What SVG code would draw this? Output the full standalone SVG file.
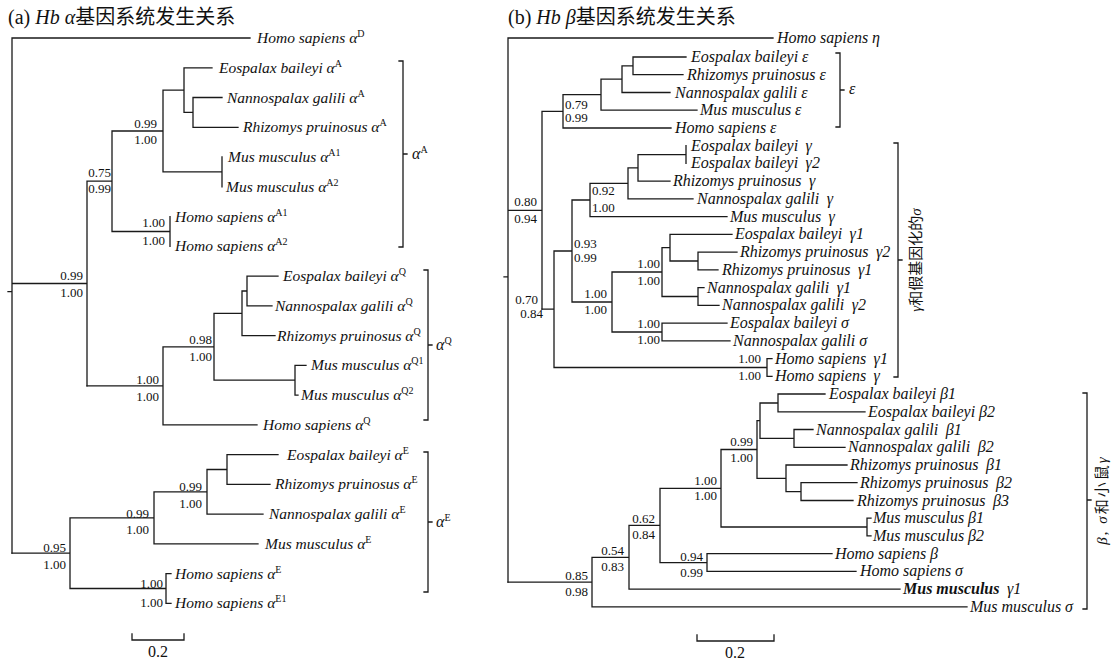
<svg xmlns="http://www.w3.org/2000/svg" width="1111" height="662" viewBox="0 0 1111 662">
<style>
.br{stroke:#1a1a1a;stroke-width:1.3;fill:none;stroke-linecap:square}
.lf{font-family:"Liberation Serif",serif;font-style:italic;font-size:16px;fill:#111}
.la{font-size:15.5px}
.sv{font-family:"Liberation Serif",serif;font-size:13px;fill:#111}
.svr{font-family:"Liberation Serif",serif;font-size:13px;fill:#111;text-anchor:end}
.sup{font-size:10px;font-style:normal}
.ttl{font-family:"Liberation Serif","Noto Sans CJK SC",serif;font-size:20px;fill:#111}
.cj{font-family:"Liberation Serif","Noto Sans CJK SC",serif;font-size:15px;fill:#111}
.sc{font-family:"Liberation Serif",serif;font-size:16px;fill:#111;text-anchor:middle}
.bd{font-weight:bold}
</style>
<rect width="1111" height="662" fill="#fff"/>
<g id="titles">
<text class="ttl" x="8" y="24">(a) <tspan font-style="italic">Hb α</tspan>基因系统发生关系</text>
<text class="ttl" x="508" y="24">(b) <tspan font-style="italic">Hb β</tspan>基因系统发生关系</text>
</g>
<g id="connectors" class="br">
<path d="M12,38V553.2M8,291.6H12M12,38H250M12,283.5H87M87,181.2V385.8M87,181.2H112M112,131V231.5M112,131H163M163,90.1V171.9M163,90.1H184M184,67.8V112.4M184,67.8H212M184,112.4H193M193,97.5V127.3M193,97.5H222M193,127.3H238M163,171.9H222M222,157V186.8M112,231.5H170M170,216.6V246.3"/>
<path d="M87,385.8H163M163,346.8V424.9M163,346.8H214M214,313.3V380.2M214,313.3H242M242,291V335.6M242,291H247M247,276.1V305.8M247,276.1H278M247,305.8H272M242,335.6H275M214,380.2H295M295,365.4V395.1M295,365.4H306M295,395.1H298M163,424.9H257"/>
<path d="M12,553.2H70M70,517.9V588.5M70,517.9H154M154,491.8V543.9M154,491.8H207M207,469.5V514.2M207,469.5H227M227,454.6V484.4M227,454.6H278M227,484.4H270M207,514.2H263M154,543.9H258M70,588.5H166M166,573.7V603.4M166,573.7H171M166,603.4H171"/>
<path d="M508,38V582.1M504,276.8H508M508,38H773M508,210.3H542M542,111.4V309.2M542,111.4H563M563,94.7V128M563,94.7H601M601,79.2V110.2M601,79.2H622M622,65.9V92.5M622,65.9H633M633,57V74.7M633,57H686M633,74.7H683M622,92.5H670M601,110.2H697M563,128H671"/>
<path d="M542,309.2H554M554,251V367.5M554,251H572M572,200V302M572,200H590M590,183.4V216.7M590,183.4H628M628,167.9V198.9M628,167.9H638M638,154.6V181.2M638,154.6H686M686,145.7V163.4M638,181.2H670M628,198.9H693M590,216.7H727M572,302H612M612,272V332M612,272H662M662,247.7V296.5M662,247.7H670M670,234.4V261M670,234.4H732M670,261H698M698,252.1V269.9M698,252.1H737M698,269.9H718M662,296.5H698M698,287.6V305.4M698,287.6H704M698,305.4H719M612,332H662M662,323.1V340.8M662,323.1H727M662,340.8H730M554,367.5H767M767,358.6V376.3M767,358.6H772M767,376.3H772"/>
<path d="M508,582.1H592M592,557.3V606.9M592,606.9H967M592,557.3H629M629,525.4V589.2M629,589.2H900M629,525.4H660M660,488.3V562.6M660,562.6H707M707,553.7V571.4M707,553.7H832M707,571.4H856M660,488.3H721M721,449.5V527M721,527H867M867,518.2V535.9M867,518.2H871M867,535.9H871M721,449.5H757M757,420.7V478.3M757,420.7H760M760,403V438.4M760,403H778M778,394V411.8M778,394H825M778,411.8H865M760,438.4H794M794,429.5V447.3M794,429.5H813M794,447.3H845M757,478.3H786M786,465V491.6M786,465H847M786,491.6H801M801,482.7V500.5M801,482.7H857M801,500.5H853"/>
<path d="M399,61H403V247H399M403,154H407"/>
<path d="M424,270H428V420H424M428,345H432"/>
<path d="M424,452H428V592H424M428,522H432"/>
<path d="M836,53H840V127H836M840,90H844"/>
<path d="M894,143H898V377H894M898,260H902"/>
<path d="M1083,393H1087V609H1083M1087,500H1091"/>
<path d="M132,634V640H184V634"/>
<path d="M697,635V641H774V635"/>
</g>
<g id="a-leaves" class="lf la">
<g id="a-HsD"><text x="257" y="43">Homo sapiens α<tspan class="sup" dy="-6">D</tspan></text></g>
<g id="a-EbA"><text x="219" y="72.8">Eospalax baileyi α<tspan class="sup" dy="-6">A</tspan></text></g>
<g id="a-NgA"><text x="227" y="102.5">Nannospalax galili α<tspan class="sup" dy="-6">A</tspan></text></g>
<g id="a-RpA"><text x="243" y="132.3">Rhizomys pruinosus α<tspan class="sup" dy="-6">A</tspan></text></g>
<g id="a-MmA1"><text x="228" y="162">Mus musculus α<tspan class="sup" dy="-6">A1</tspan></text></g>
<g id="a-MmA2"><text x="226" y="191.8">Mus musculus α<tspan class="sup" dy="-6">A2</tspan></text></g>
<g id="a-HsA1"><text x="175" y="221.6">Homo sapiens α<tspan class="sup" dy="-6">A1</tspan></text></g>
<g id="a-HsA2"><text x="175" y="251.3">Homo sapiens α<tspan class="sup" dy="-6">A2</tspan></text></g>
<g id="a-EbQ"><text x="283" y="281.1">Eospalax baileyi α<tspan class="sup" dy="-6">Q</tspan></text></g>
<g id="a-NgQ"><text x="275" y="310.8">Nannospalax galili α<tspan class="sup" dy="-6">Q</tspan></text></g>
<g id="a-RpQ"><text x="277" y="340.6">Rhizomys pruinosus α<tspan class="sup" dy="-6">Q</tspan></text></g>
<g id="a-MmQ1"><text x="311" y="370.4">Mus musculus α<tspan class="sup" dy="-6">Q1</tspan></text></g>
<g id="a-MmQ2"><text x="301" y="400.1">Mus musculus α<tspan class="sup" dy="-6">Q2</tspan></text></g>
<g id="a-HsQ"><text x="263" y="429.9">Homo sapiens α<tspan class="sup" dy="-6">Q</tspan></text></g>
<g id="a-EbE"><text x="287" y="459.6">Eospalax baileyi α<tspan class="sup" dy="-6">E</tspan></text></g>
<g id="a-RpE"><text x="275" y="489.4">Rhizomys pruinosus α<tspan class="sup" dy="-6">E</tspan></text></g>
<g id="a-NgE"><text x="269" y="519.2">Nannospalax galili α<tspan class="sup" dy="-6">E</tspan></text></g>
<g id="a-MmE"><text x="265" y="548.9">Mus musculus α<tspan class="sup" dy="-6">E</tspan></text></g>
<g id="a-HsE"><text x="175" y="578.7">Homo sapiens α<tspan class="sup" dy="-6">E</tspan></text></g>
<g id="a-HsE1"><text x="175" y="608.4">Homo sapiens α<tspan class="sup" dy="-6">E1</tspan></text></g>
</g>
<g id="a-support">
<g id="a-n1"><text class="svr" x="157" y="128">0.99</text><text class="svr" x="157" y="144">1.00</text></g>
<g id="a-n2"><text class="svr" x="111" y="176.5">0.75</text><text class="svr" x="111" y="193">0.99</text></g>
<g id="a-n3"><text class="svr" x="165" y="226.5">1.00</text><text class="svr" x="165" y="244.5">1.00</text></g>
<g id="a-n4"><text class="svr" x="83" y="279.5">0.99</text><text class="svr" x="83" y="296.5">1.00</text></g>
<g id="a-n5"><text class="svr" x="212" y="343.5">0.98</text><text class="svr" x="212" y="360.5">1.00</text></g>
<g id="a-n6"><text class="svr" x="159" y="383.5">1.00</text><text class="svr" x="159" y="400.5">1.00</text></g>
<g id="a-n7"><text class="svr" x="202" y="490.5">0.99</text><text class="svr" x="202" y="507.5">1.00</text></g>
<g id="a-n8"><text class="svr" x="149" y="517.5">0.99</text><text class="svr" x="149" y="533.5">1.00</text></g>
<g id="a-n9"><text class="svr" x="66" y="551.5">0.95</text><text class="svr" x="66" y="568.5">1.00</text></g>
<g id="a-n10"><text class="svr" x="163" y="587.5">1.00</text><text class="svr" x="163" y="606.5">1.00</text></g>
</g>
<g id="a-groups" class="lf">
<g id="a-grpA"><text x="412" y="159">α<tspan class="sup" dy="-6">A</tspan></text></g>
<g id="a-grpQ"><text x="436" y="350">α<tspan class="sup" dy="-6">Q</tspan></text></g>
<g id="a-grpE"><text x="436" y="527">α<tspan class="sup" dy="-6">E</tspan></text></g>
</g>
<g id="b-leaves" class="lf">
<g id="b-Hseta"><text x="777" y="43">Homo sapiens η</text></g>
<g id="b-Ebe"><text x="691" y="62">Eospalax baileyi ε</text></g>
<g id="b-Rpe"><text x="687" y="79.7">Rhizomys pruinosus ε</text></g>
<g id="b-Nge"><text x="675" y="97.5">Nannospalax galili ε</text></g>
<g id="b-Mme"><text x="700" y="115.2">Mus musculus ε</text></g>
<g id="b-Hse"><text x="675" y="133">Homo sapiens ε</text></g>
<g id="b-Ebg"><text x="691" y="150.7">Eospalax baileyi<tspan dx="7.5">γ</tspan></text></g>
<g id="b-Ebg2"><text x="691" y="168.4">Eospalax baileyi<tspan dx="7.5">γ2</tspan></text></g>
<g id="b-Rpg"><text x="673" y="186.2">Rhizomys pruinosus<tspan dx="7.5">γ</tspan></text></g>
<g id="b-Ngg"><text x="697" y="203.9">Nannospalax galili<tspan dx="7.5">γ</tspan></text></g>
<g id="b-Mmg"><text x="730" y="221.7">Mus musculus<tspan dx="7.5">γ</tspan></text></g>
<g id="b-Ebg1"><text x="735" y="239.4">Eospalax baileyi<tspan dx="7.5">γ1</tspan></text></g>
<g id="b-Rpg2"><text x="740" y="257.1">Rhizomys pruinosus<tspan dx="7.5">γ2</tspan></text></g>
<g id="b-Rpg1"><text x="722" y="274.9">Rhizomys pruinosus<tspan dx="7.5">γ1</tspan></text></g>
<g id="b-Ngg1"><text x="707" y="292.6">Nannospalax galili<tspan dx="7.5">γ1</tspan></text></g>
<g id="b-Ngg2"><text x="722" y="310.4">Nannospalax galili<tspan dx="7.5">γ2</tspan></text></g>
<g id="b-Ebs"><text x="730" y="328.1">Eospalax baileyi σ</text></g>
<g id="b-Ngs"><text x="733" y="345.8">Nannospalax galili σ</text></g>
<g id="b-Hsg1"><text x="775" y="363.6">Homo sapiens<tspan dx="7.5">γ1</tspan></text></g>
<g id="b-Hsg"><text x="775" y="381.3">Homo sapiens<tspan dx="7.5">γ</tspan></text></g>
<g id="b-Ebb1"><text x="829" y="399">Eospalax baileyi β1</text></g>
<g id="b-Ebb2"><text x="868" y="416.8">Eospalax baileyi β2</text></g>
<g id="b-Ngb1"><text x="816" y="434.5">Nannospalax galili<tspan dx="7.5">β1</tspan></text></g>
<g id="b-Ngb2"><text x="848" y="452.3">Nannospalax galili<tspan dx="7.5">β2</tspan></text></g>
<g id="b-Rpb1"><text x="850" y="470">Rhizomys pruinosus<tspan dx="7.5">β1</tspan></text></g>
<g id="b-Rpb2"><text x="860" y="487.7">Rhizomys pruinosus<tspan dx="7.5">β2</tspan></text></g>
<g id="b-Rpb3"><text x="857" y="505.5">Rhizomys pruinosus<tspan dx="7.5">β3</tspan></text></g>
<g id="b-Mmb1"><text x="873" y="523.2">Mus musculus β1</text></g>
<g id="b-Mmb2"><text x="873" y="540.9">Mus musculus β2</text></g>
<g id="b-Hsb"><text x="835" y="558.7">Homo sapiens β</text></g>
<g id="b-Hss"><text x="860" y="576.4">Homo sapiens σ</text></g>
<g id="b-Mmg1"><text x="903" y="594.2"><tspan class="bd">Mus musculus</tspan><tspan dx="7.5">γ1</tspan></text></g>
<g id="b-Mms"><text x="970" y="611.9">Mus musculus σ</text></g>
</g>
<g id="b-support">
<g id="b-n1"><text class="sv" x="565" y="108.5">0.79</text><text class="sv" x="565" y="121.5">0.99</text></g>
<g id="b-n2"><text class="svr" x="537" y="206">0.80</text><text class="svr" x="537" y="223">0.94</text></g>
<g id="b-n3"><text class="sv" x="592" y="194.5">0.92</text><text class="sv" x="592" y="211.5">1.00</text></g>
<g id="b-n4"><text class="sv" x="574" y="247.5">0.93</text><text class="sv" x="574" y="261.5">0.99</text></g>
<g id="b-n5"><text class="svr" x="538" y="303.5">0.70</text><text class="svr" x="543" y="318">0.84</text></g>
<g id="b-n6"><text class="svr" x="660" y="268">1.00</text><text class="svr" x="660" y="285">1.00</text></g>
<g id="b-n7"><text class="svr" x="607" y="297.5">1.00</text><text class="svr" x="607" y="313.5">1.00</text></g>
<g id="b-n8"><text class="svr" x="660" y="327.5">1.00</text><text class="svr" x="660" y="343.5">1.00</text></g>
<g id="b-n9"><text class="svr" x="761" y="363">1.00</text><text class="svr" x="761" y="380">1.00</text></g>
<g id="b-n10"><text class="svr" x="753" y="446">0.99</text><text class="svr" x="753" y="462">1.00</text></g>
<g id="b-n11"><text class="svr" x="717" y="484.5">1.00</text><text class="svr" x="717" y="500">1.00</text></g>
<g id="b-n12"><text class="svr" x="655" y="522.5">0.62</text><text class="svr" x="655" y="538.5">0.84</text></g>
<g id="b-n13"><text class="svr" x="703" y="560.5">0.94</text><text class="svr" x="703" y="576.5">0.99</text></g>
<g id="b-n14"><text class="svr" x="624" y="554.5">0.54</text><text class="svr" x="624" y="570.5">0.83</text></g>
<g id="b-n15"><text class="svr" x="588" y="580">0.85</text><text class="svr" x="588" y="595.5">0.98</text></g>
</g>
<g id="b-groups">
<g id="b-grpE"><text class="lf" x="849" y="94">ε</text></g>
<g id="b-grpG"><text class="cj" text-anchor="middle" transform="translate(921,260) rotate(-90)"><tspan font-style="italic">γ</tspan>和假基因化的<tspan font-style="italic">σ</tspan></text></g>
<g id="b-grpB"><text class="cj" text-anchor="middle" letter-spacing="2" transform="translate(1107,500) rotate(-90)"><tspan font-style="italic">β</tspan>, <tspan font-style="italic">σ</tspan>和小鼠<tspan font-style="italic">γ</tspan></text></g>
</g>
<g id="scales">
<text class="sc" x="158" y="657">0.2</text>
<text class="sc" x="735" y="658">0.2</text>
</g>
</svg>
